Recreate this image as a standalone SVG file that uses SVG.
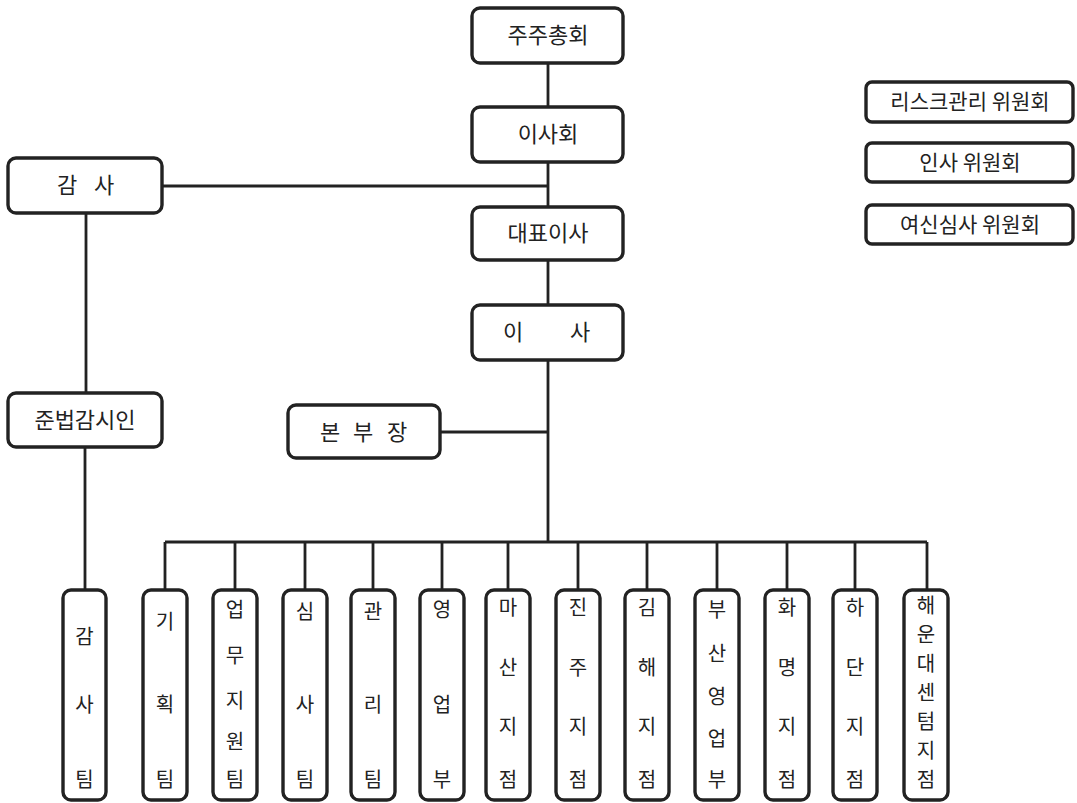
<svg xmlns="http://www.w3.org/2000/svg" width="1077" height="803" viewBox="0 0 1077 803">
<style>
.box{fill:#fff;stroke:#222;stroke-width:3.4}
.ln{stroke:#222;stroke-width:2.8;fill:none}
text{font-family:"Noto Sans CJK KR","Noto Sans",sans-serif;fill:#222;text-anchor:middle;white-space:pre}
.t{font-size:22px}
.v{font-size:20px}
.c{font-size:21px}
</style>
<rect width="1077" height="803" fill="#fff"/>
<g id="connectors">
<path class="ln" d="M548 63V107M548 162V207M162 186H548M548 260V305M548 360V542M440 432H548M86 213V393M85 447V590"/>
<path class="ln" d="M165 542H927M165 542V590M235 542V590M305 542V590M373 542V590M442 542V590M508 542V590M578 542V590M647 542V590M717 542V590M787 542V590M855 542V590M927 542V590"/>
</g>
<g id="n-shareholders"><rect class="box" x="472" y="8" width="151" height="55" rx="8"/><text class="t" x="548" y="43">주주총회</text></g>
<g id="n-board"><rect class="box" x="472" y="107" width="151" height="55" rx="8"/><text class="t" x="548" y="142">이사회</text></g>
<g id="n-ceo"><rect class="box" x="472" y="207" width="151" height="53" rx="8"/><text class="t" x="548" y="241">대표이사</text></g>
<g id="n-director"><rect class="box" x="472" y="305" width="151" height="55" rx="8"/><text class="t" y="340"><tspan x="513">이</tspan><tspan x="580">사</tspan></text></g>
<g id="n-auditor"><rect class="box" x="8" y="158" width="154" height="55" rx="8"/><text class="t" y="193"><tspan x="67">감</tspan><tspan x="104">사</tspan></text></g>
<g id="n-compliance"><rect class="box" x="8" y="393" width="154" height="54" rx="8"/><text class="t" x="85" y="428">준법감시인</text></g>
<g id="n-hq"><rect class="box" x="288" y="405" width="152" height="53" rx="8"/><text class="t" y="440"><tspan x="330">본</tspan><tspan x="363">부</tspan><tspan x="397">장</tspan></text></g>
<g id="n-risk"><rect class="box" x="866" y="82" width="207" height="40" rx="6"/><text class="c" x="970" y="109">리스크관리 위원회</text></g>
<g id="n-hr"><rect class="box" x="866" y="143" width="207" height="39" rx="6"/><text class="c" x="970" y="170">인사 위원회</text></g>
<g id="n-credit"><rect class="box" x="866" y="205" width="207" height="39" rx="6"/><text class="c" x="970" y="232">여신심사 위원회</text></g>
<g id="n-audit-team"><rect class="box" x="63" y="590" width="43" height="210" rx="8"/><text class="v"><tspan x="84.5" y="644">감</tspan><tspan x="84.5" y="712">사</tspan><tspan x="84.5" y="787">팀</tspan></text></g>
<g id="n-plan"><rect class="box" x="143" y="590" width="44" height="210" rx="8"/><text class="v"><tspan x="165" y="629">기</tspan><tspan x="165" y="712">획</tspan><tspan x="165" y="787">팀</tspan></text></g>
<g id="n-support"><rect class="box" x="213" y="590" width="44" height="210" rx="8"/><text class="v"><tspan x="235" y="617">업</tspan><tspan x="235" y="663">무</tspan><tspan x="235" y="708">지</tspan><tspan x="235" y="749">원</tspan><tspan x="235" y="787">팀</tspan></text></g>
<g id="n-review"><rect class="box" x="283" y="590" width="44" height="210" rx="8"/><text class="v"><tspan x="305" y="619">심</tspan><tspan x="305" y="712">사</tspan><tspan x="305" y="787">팀</tspan></text></g>
<g id="n-mgmt"><rect class="box" x="351" y="590" width="44" height="210" rx="8"/><text class="v"><tspan x="373" y="619">관</tspan><tspan x="373" y="712">리</tspan><tspan x="373" y="787">팀</tspan></text></g>
<g id="n-sales"><rect class="box" x="420" y="590" width="44" height="210" rx="8"/><text class="v"><tspan x="442" y="617">영</tspan><tspan x="442" y="712">업</tspan><tspan x="442" y="787">부</tspan></text></g>
<g id="n-masan"><rect class="box" x="486" y="590" width="44" height="210" rx="8"/><text class="v"><tspan x="508" y="615">마</tspan><tspan x="508" y="675">산</tspan><tspan x="508" y="734">지</tspan><tspan x="508" y="787">점</tspan></text></g>
<g id="n-jinju"><rect class="box" x="556" y="590" width="44" height="210" rx="8"/><text class="v"><tspan x="578" y="615">진</tspan><tspan x="578" y="675">주</tspan><tspan x="578" y="734">지</tspan><tspan x="578" y="787">점</tspan></text></g>
<g id="n-gimhae"><rect class="box" x="625" y="590" width="44" height="210" rx="8"/><text class="v"><tspan x="647" y="615">김</tspan><tspan x="647" y="675">해</tspan><tspan x="647" y="734">지</tspan><tspan x="647" y="787">점</tspan></text></g>
<g id="n-busan"><rect class="box" x="695" y="590" width="44" height="210" rx="8"/><text class="v"><tspan x="717" y="617">부</tspan><tspan x="717" y="661">산</tspan><tspan x="717" y="704">영</tspan><tspan x="717" y="746">업</tspan><tspan x="717" y="787">부</tspan></text></g>
<g id="n-hwamyeong"><rect class="box" x="765" y="590" width="44" height="210" rx="8"/><text class="v"><tspan x="787" y="615">화</tspan><tspan x="787" y="675">명</tspan><tspan x="787" y="734">지</tspan><tspan x="787" y="787">점</tspan></text></g>
<g id="n-hadan"><rect class="box" x="833" y="590" width="44" height="210" rx="8"/><text class="v"><tspan x="855" y="615">하</tspan><tspan x="855" y="675">단</tspan><tspan x="855" y="734">지</tspan><tspan x="855" y="787">점</tspan></text></g>
<g id="n-haeundae"><rect class="box" x="904" y="590" width="44" height="210" rx="8"/><text class="v"><tspan x="926" y="613">해</tspan><tspan x="926" y="642">운</tspan><tspan x="926" y="671">대</tspan><tspan x="926" y="700">센</tspan><tspan x="926" y="729">텀</tspan><tspan x="926" y="758">지</tspan><tspan x="926" y="787">점</tspan></text></g>
</svg>
